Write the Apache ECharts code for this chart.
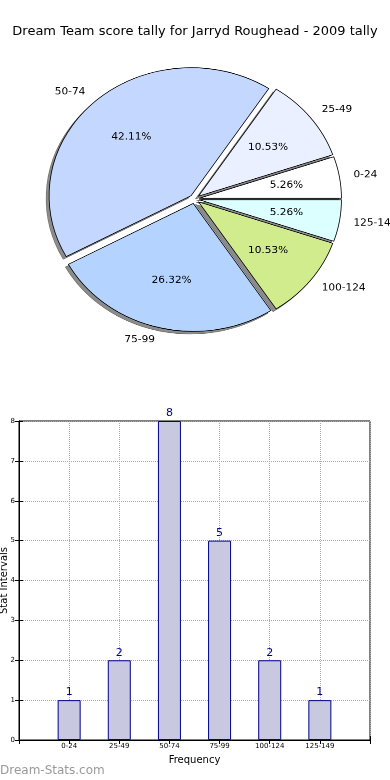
<!DOCTYPE html>
<html><head><meta charset="utf-8">
<script src="https://cdn.jsdelivr.net/npm/echarts@6/dist/echarts.min.js"></script>
<style>
html,body{margin:0;padding:0;background:#fff}
#c{position:absolute;left:0;top:0;width:390px;height:780px}
#p{position:absolute;left:0;top:0;width:390px;height:400px;transform:scaleY(0.9014);transform-origin:195px 199px;pointer-events:none}
</style>
</head><body><div id="c"></div><div id="p"></div>
<script>
const chartTitle = 'Dream Team score tally for Jarryd Roughead - 2009 tally';
const categories = ['0-24', '25-49', '50-74', '75-99', '100-124', '125-149'];
const counts = [1, 2, 8, 5, 2, 1];
const yTicks = [0, 1, 2, 3, 4, 5, 6, 7, 8];
const xAxisName = 'Frequency';
const yAxisName = 'Stat Intervals';
const watermark = 'Dream-Stats.com';
const sliceColors = ['#ffffff', '#eaf0ff', '#c4d8ff', '#b4d4ff', '#d0ec8c', '#dcffff'];

const FONT = 'DejaVu Sans';
const total = counts.reduce((a, b) => a + b, 0);
const R = 142, CX = 194.5, CY = 199, EXP = 5;

const mk = (extra) => categories.map((n, i) => Object.assign({ name: n, value: counts[i], selected: true }, extra ? extra(i) : {}));

const pieCommon = {
  type: 'pie', startAngle: 0, clockwise: false, selectedMode: 'multiple', selectedOffset: EXP,
  avoidLabelOverlap: false, animation: false, emphasis: { disabled: true }
};

// main chart: title, bar chart, watermark
const chart = echarts.init(document.getElementById('c'));
chart.setOption({
  animation: false,
  textStyle: { fontFamily: FONT },
  title: { text: chartTitle, left: 'center', top: 20, textStyle: { fontSize: 13, fontWeight: 'normal', color: '#000', fontFamily: FONT } },
  graphic: [{ type: 'text', left: 0, top: 765, style: { text: watermark, fontSize: 12, fontWeight: 'normal', fill: '#9a9a9a', fontFamily: FONT } }],
  grid: { left: 19, right: 20, top: 421, bottom: 40, show: true, borderColor: '#000', borderWidth: 1, containLabel: false, outerBoundsMode: 'none' },
  xAxis: [{
    type: 'value', min: 0, max: 7, interval: 1, position: 'bottom',
    name: xAxisName, nameLocation: 'middle', nameGap: 15, nameMoveOverlap: false,
    nameTextStyle: { fontSize: 10, color: '#000', fontFamily: FONT },
    axisLine: { show: true, lineStyle: { color: '#000' } },
    axisTick: { show: true, inside: true, length: 4, lineStyle: { color: '#000' } },
    axisLabel: { fontSize: 7, color: '#000', margin: 3, formatter: v => (v >= 1 && v <= categories.length) ? categories[v - 1] : '' },
    splitLine: { show: true, lineStyle: { type: 'dotted', color: '#aaaaaa' } }
  }, {
    type: 'value', min: 0, max: 7, interval: 1, position: 'top',
    axisLine: { show: true, lineStyle: { color: '#000' } },
    axisTick: { show: true, inside: true, length: 4, lineStyle: { color: '#000' } },
    axisLabel: { show: false }, splitLine: { show: false }
  }],
  yAxis: [{
    type: 'value', min: yTicks[0], max: yTicks[yTicks.length - 1], interval: 1, position: 'left',
    name: yAxisName, nameLocation: 'middle', nameGap: 10, nameMoveOverlap: false,
    nameTextStyle: { fontSize: 10, color: '#000', fontFamily: FONT },
    axisLine: { show: true, lineStyle: { color: '#000' } },
    axisTick: { show: true, inside: true, length: 4, lineStyle: { color: '#000' } },
    axisLabel: { fontSize: 7, color: '#000', margin: 4 },
    splitLine: { show: true, lineStyle: { type: 'dotted', color: '#aaaaaa' } }
  }, {
    type: 'value', min: yTicks[0], max: yTicks[yTicks.length - 1], interval: 1, position: 'right',
    axisLine: { show: true, lineStyle: { color: '#000' } },
    axisTick: { show: true, inside: true, length: 4, lineStyle: { color: '#000' } },
    axisLabel: { show: false }, splitLine: { show: false }
  }],
  series: [
    {
      type: 'bar', xAxisIndex: 0, yAxisIndex: 0,
      data: counts.map((v, i) => [i + 1, v]),
      barWidth: 23,
      itemStyle: { color: '#c8c8e0', borderColor: '#00008b', borderWidth: 1 },
      label: { show: true, position: 'top', color: '#00008b', fontSize: 11, distance: 2, fontFamily: FONT, formatter: p => p.value[1] },
      emphasis: { disabled: true }
    }
  ]
});

// pie chart (drawn in its own layer, scaled vertically so it is elliptical like the source)
const pie = echarts.init(document.getElementById('p'), null, { devicePixelRatio: 2 });
pie.setOption({
  animation: false,
  textStyle: { fontFamily: FONT },
  series: [
    Object.assign({}, pieCommon, {
      name: 'shadow', center: [CX - 3, CY + 3], radius: [0, R], silent: true,
      label: { show: false }, labelLine: { show: false },
      itemStyle: { color: '#8c8c8c', borderColor: '#6a6a6a', borderWidth: 0.6 },
      data: mk()
    }),
    Object.assign({}, pieCommon, {
      name: 'slices', center: [CX, CY], radius: [0, R],
      label: { show: true, position: 'outside', formatter: '{b}', fontSize: 10.5, color: '#000', fontFamily: FONT, distanceToLabelLine: 0 },
      labelLine: { show: false, length: R * 0.1, length2: 0 },
      itemStyle: { borderColor: '#000', borderWidth: 0.8 },
      data: mk(i => ({ itemStyle: { color: sliceColors[i] } }))
    }),
    Object.assign({}, pieCommon, {
      name: 'pct', center: [CX, CY], radius: [R * 0.2, R], silent: true,
      label: { show: true, position: 'inside', fontSize: 10.5, color: '#000', fontFamily: FONT,
        formatter: p => (p.value / total * 100).toFixed(2) + '%' },
      labelLine: { show: false },
      itemStyle: { color: 'rgba(0,0,0,0)', borderWidth: 0 },
      data: mk()
    })
  ]
});
</script></body></html>
